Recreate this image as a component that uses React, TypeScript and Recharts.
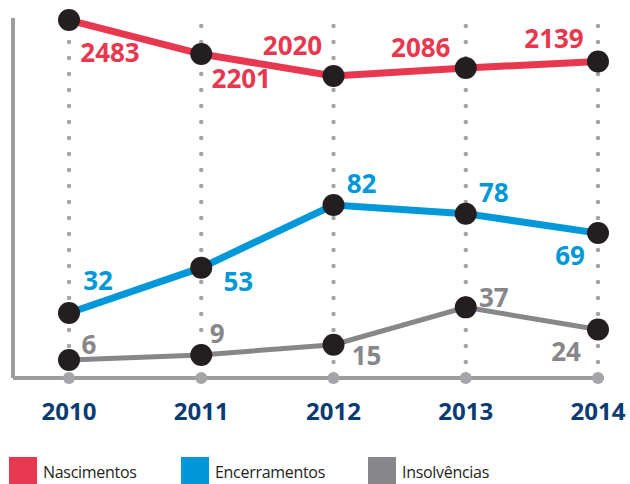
import React from 'react';
import { LineChart, Line, XAxis, YAxis, ReferenceLine, CartesianGrid } from 'recharts';

const years = ['2010', '2011', '2012', '2013', '2014'];
const nascimentos = [2483, 2201, 2020, 2086, 2139];
const encerramentos = [32, 53, 82, 78, 69];
const insolvencias = [6, 9, 15, 37, 24];

const RED = '#e8384f';
const BLUE = '#0098d8';
const GREY = '#87878a';
const DOT = '#231f20';
const NAVY = '#0b3b75';
const AXIS = '#9d9d9f';
const FONT = '"Open Sans", "Noto Sans", sans-serif';

const chartData = years.map((year, i) => ({
  year,
  nascimentos: nascimentos[i],
  encerramentos: encerramentos[i],
  insolvencias: insolvencias[i],
}));

// label placement relative to each dot (dx, dy of the label's centre)
const labelOffsets: Record<string, [number, number][]> = {
  nascimentos: [[41, 32], [40, 24], [-41, -31], [-45, -21], [-44, -24]],
  encerramentos: [[29, -33], [37, 13], [28, -22], [28, -22], [-28, 22]],
  insolvencias: [[20, -16], [16, -22], [33, 10], [28, -10], [-32, 22]],
};

const makeDot = (key: string, color: string) => (props: any) => {
  const { cx, cy, index, payload } = props;
  const [dx, dy] = labelOffsets[key][index];
  return (
    <g key={`${key}-${index}`}>
      <circle cx={cx} cy={cy} r={11} fill={DOT} />
      <text
        x={cx + dx}
        y={cy + dy}
        textAnchor="middle"
        dominantBaseline="central"
        fill={color}
        fontSize={26}
        fontWeight={700}
        fontFamily={FONT}
      >
        {payload[key]}
      </text>
    </g>
  );
};

const YearTick = (props: any) => {
  const { x, y, payload } = props;
  return (
    <g>
      <circle cx={x} cy={y} r={6} fill="#a5a5a8" />
      <text
        x={x}
        y={y + 42}
        textAnchor="middle"
        fill={NAVY}
        fontSize={24}
        fontWeight={700}
        fontFamily={FONT}
      >
        {payload.value}
      </text>
    </g>
  );
};

const legendItems = [
  { name: 'Nascimentos', color: RED, left: 9 },
  { name: 'Encerramentos', color: BLUE, left: 181 },
  { name: 'Insolvências', color: GREY, left: 368 },
];

export default function App() {
  return (
    <div
      style={{
        position: 'absolute',
        left: 0,
        top: 0,
        width: 630,
        height: 484,
        background: '#fff',
        overflow: 'hidden',
        fontFamily: FONT,
      }}
    >
      <LineChart
        width={630}
        height={440}
        data={chartData}
        margin={{ top: 18, right: 26, bottom: 0, left: 13 }}
      >
        {/* left spine, drawn at the plot's left edge */}
        <CartesianGrid
          horizontal={false}
          stroke={AXIS}
          strokeWidth={4}
          verticalCoordinatesGenerator={({ offset }: any) => [offset.left]}
        />
        <XAxis
          dataKey="year"
          height={62}
          padding={{ left: 56, right: 6 }}
          axisLine={{ stroke: AXIS, strokeWidth: 4 }}
          tickLine={false}
          tickSize={0}
          tickMargin={0}
          tick={<YearTick />}
          interval={0}
        />
        <YAxis yAxisId="red" hide domain={[-485, 2500]} />
        <YAxis yAxisId="blue" hide domain={[1.9, 168.6]} />
        <YAxis yAxisId="grey" hide domain={[-4.6, 207.4]} />
        {years.map((y) => (
          <ReferenceLine
            key={y}
            x={y}
            yAxisId="red"
            stroke="#a5a5a8"
            strokeWidth={4.5}
            strokeDasharray="0 16"
            strokeLinecap="round"
          />
        ))}
        <Line
          yAxisId="red"
          dataKey="nascimentos"
          stroke={RED}
          strokeWidth={7}
          dot={makeDot('nascimentos', RED)}
          activeDot={false}
          isAnimationActive={false}
        />
        <Line
          yAxisId="blue"
          dataKey="encerramentos"
          stroke={BLUE}
          strokeWidth={7}
          dot={makeDot('encerramentos', BLUE)}
          activeDot={false}
          isAnimationActive={false}
        />
        <Line
          yAxisId="grey"
          dataKey="insolvencias"
          stroke={GREY}
          strokeWidth={5}
          dot={makeDot('insolvencias', GREY)}
          activeDot={false}
          isAnimationActive={false}
        />
      </LineChart>
      {legendItems.map((item) => (
        <div
          key={item.name}
          style={{
            position: 'absolute',
            left: item.left,
            top: 457,
            display: 'flex',
            alignItems: 'flex-start',
          }}
        >
          <div style={{ width: 28, height: 28, background: item.color }} />
          <span
            style={{
              marginLeft: 6,
              marginTop: 3,
              fontSize: 16,
              lineHeight: '24px',
              color: '#231f20',
              letterSpacing: -0.3,
            }}
          >
            {item.name}
          </span>
        </div>
      ))}
    </div>
  );
}
